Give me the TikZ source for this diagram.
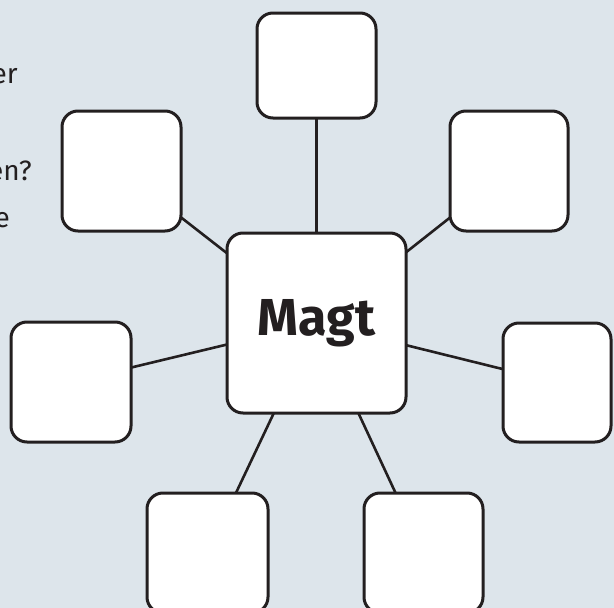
\documentclass[tikz,border=0pt]{standalone}
\usepackage{fontspec}
\setmainfont{Fira Sans}
\definecolor{bgc}{HTML}{DDE5EB}
\definecolor{ink}{HTML}{231F20}
\pgfdeclarelayer{background}
\pgfsetlayers{background,main}
\tikzset{
  box/.style={draw=ink, fill=white, line width=3pt, rounded corners=16pt, inner sep=0pt},
  link/.style={draw=ink, line width=2.6pt},
  frag/.style={anchor=base east, inner sep=0pt, text=ink, font=\fontsize{28}{30}\selectfont},
}
\begin{document}
\begin{tikzpicture}[x=1pt,y=-1pt]
\useasboundingbox (0,0) rectangle (614,608);
\clip (0,0) rectangle (614,608);
\node[frag] (t1) at (18,83) {er};
\node[frag] (t2) at (32,180) {en?};
\node[frag] (t3) at (10,227) {e};
\node[box, minimum width=179pt, minimum height=180pt, font=\fontsize{52}{54}\selectfont\bfseries, text=ink] (c) at (316.5,323) {Magt};
\node[box, minimum width=119pt, minimum height=105pt] (top) at (316.5,65.5) {};
\node[box, minimum width=119pt, minimum height=120pt] (ul) at (121.5,171) {};
\node[box, minimum width=118pt, minimum height=120pt] (ur) at (509,171) {};
\node[box, minimum width=120pt, minimum height=120pt] (l) at (71,382) {};
\node[box, minimum width=108pt, minimum height=119pt] (r) at (557,382.5) {};
\node[box, minimum width=121pt, minimum height=120pt] (bl) at (207.5,553) {};
\node[box, minimum width=119pt, minimum height=120pt] (br) at (423.5,553) {};
\begin{pgfonlayer}{background}
\fill[bgc] (0,0) rectangle (614,608);
\foreach \n in {top,ul,ur,l,r,bl,br}{
  \draw[link] (c.center) -- (\n.center);
}
\end{pgfonlayer}
\end{tikzpicture}
\end{document}
